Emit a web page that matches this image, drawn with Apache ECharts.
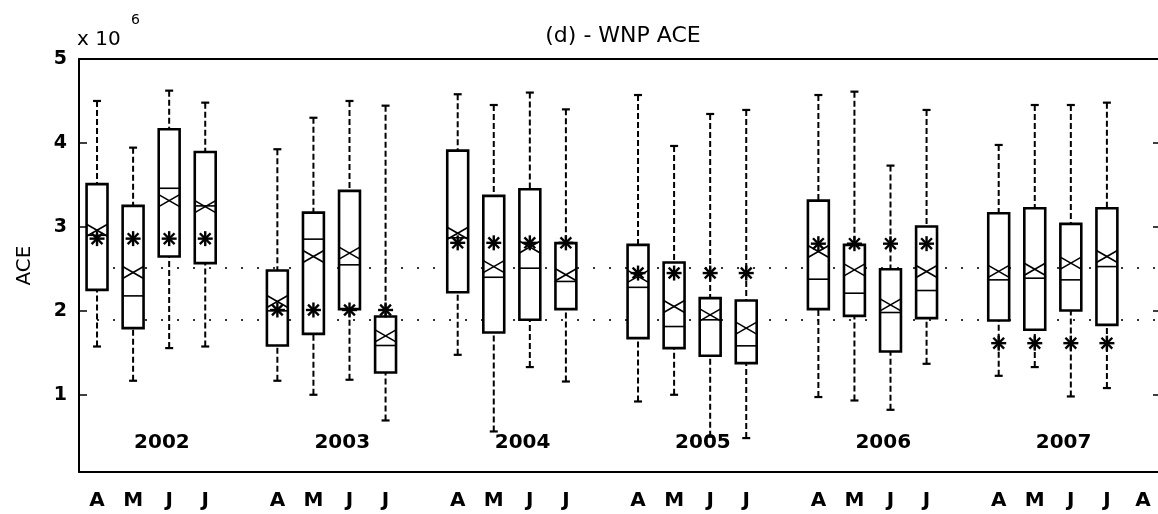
<!DOCTYPE html>
<html>
<head>
<meta charset="utf-8">
<script src="https://cdn.jsdelivr.net/npm/echarts@6/dist/echarts.min.js"></script>
<style>
html,body{margin:0;padding:0;background:#fff;overflow:hidden;width:1158px;height:514px}
#c{width:1180px;height:514px}
</style>
</head>
<body>
<div id="c"></div>
<script>
// ---- data (values in units of 10^6) ----
const years = ['2002', '2003', '2004', '2005', '2006', '2007'];
const tickLabels = ['A','M','J','J','', 'A','M','J','J','', 'A','M','J','J','',
                    'A','M','J','J','', 'A','M','J','J','', 'A','M','J','J','A'];
const whiskerLow  = [1.575, 1.167, 1.556, 1.575,  1.167, 1.00, 1.179, 0.694,  1.476, 0.563, 1.33, 1.158,
                     0.92, 1.00, 0.50, 0.484,  0.973, 0.932, 0.821, 1.369,  1.226, 1.33, 0.98, 1.08];
const quartile1   = [2.25, 1.794, 2.647, 2.568,  1.587, 1.726, 2.02, 1.265,  2.222, 1.742, 1.893, 2.02,
                     1.675, 1.556, 1.464, 1.377,  2.02, 1.94, 1.516, 1.913,  1.885, 1.774, 2.004, 1.833];
const medians     = [2.90, 2.178, 3.46, 3.25,  2.00, 2.854, 2.548, 1.587,  2.87, 2.40, 2.508, 2.35,
                     2.28, 1.813, 1.893, 1.583,  2.377, 2.21, 1.98, 2.242,  2.369, 2.389, 2.369, 2.527];
const quartile3   = [3.51, 3.25, 4.163, 3.893,  2.48, 3.17, 3.429, 1.932,  3.908, 3.369, 3.449, 2.806,
                     2.786, 2.575, 2.151, 2.123,  3.313, 2.786, 2.496, 3.004,  3.163, 3.222, 3.036, 3.222];
const whiskerHigh = [4.50, 3.944, 4.623, 4.48,  3.925, 4.30, 4.50, 4.444,  4.58, 4.452, 4.60, 4.40,
                     4.571, 3.964, 4.345, 4.393,  4.571, 4.611, 3.73, 4.393,  3.976, 4.452, 4.452, 4.48];
const means       = [2.96, 2.456, 3.313, 3.242,  2.111, 2.647, 2.687, 1.702,  2.925, 2.527, 2.76, 2.429,
                     2.41, 2.051, 1.952, 1.794,  2.706, 2.488, 2.071, 2.468,  2.47, 2.496, 2.568, 2.647];
const observed    = [2.86, 2.01, 2.81, 2.45, 2.80, 1.615];   // one per year (asterisk)
const refLevels   = [2.51, 1.89];                            // dotted reference lines
const yTicks      = [1, 2, 3, 4, 5];

// ---- build series data ----
const boxData = [];
for (let i = 0; i < medians.length; i++) {
  const k = Math.floor(i / 4), m = i % 4;
  boxData.push([5 * k + m, whiskerLow[i], quartile1[i], medians[i], quartile3[i], whiskerHigh[i], means[i], observed[k]]);
}
const yearLabelData = years.map((y, k) => [5 * k + 1.8, 0.43, y]);

const FONT = 'DejaVu Sans';
const BLACK = '#000';

function renderBox(params, api) {
  const x = api.value(0);
  const pLow = api.coord([x, api.value(1)]);
  const pQ1 = api.coord([x, api.value(2)]);
  const pMed = api.coord([x, api.value(3)]);
  const pQ3 = api.coord([x, api.value(4)]);
  const pHigh = api.coord([x, api.value(5)]);
  const pMean = api.coord([x, api.value(6)]);
  const pObs = api.coord([x, api.value(7)]);
  const cx = pMed[0];
  const bw = api.size([1, 0])[0] * 0.58;
  const hw = bw / 2;
  const cap = 4;
  const capSt = { stroke: BLACK, lineWidth: 2.2, fill: null };
  const dashed = { stroke: BLACK, lineWidth: 2, lineDash: [6, 3], fill: null };
  const thin = { stroke: BLACK, lineWidth: 1.6, fill: null };
  const star = { stroke: BLACK, lineWidth: 2.4, fill: null };
  const line = (x1, y1, x2, y2, st) => ({ type: 'line', shape: { x1, y1, x2, y2 }, style: st });
  const r = 7.5, d = r * 0.72;
  return {
    type: 'group',
    children: [
      line(cx, pHigh[1], cx, pQ3[1], dashed),
      line(cx, pLow[1], cx, pQ1[1], dashed),
      line(cx - cap, pHigh[1], cx + cap, pHigh[1], capSt),
      line(cx - cap, pLow[1], cx + cap, pLow[1], capSt),
      { type: 'rect', shape: { x: cx - hw, y: pQ3[1], width: bw, height: pQ1[1] - pQ3[1] },
        style: { fill: '#fff', stroke: BLACK, lineWidth: 2.6 } },
      line(cx - hw, pMed[1], cx + hw, pMed[1], thin),
      // mean marker: bow-tie X across the box
      line(cx - hw, pMean[1] - 6, cx + hw, pMean[1] + 6, thin),
      line(cx - hw, pMean[1] + 6, cx + hw, pMean[1] - 6, thin),
      // observed marker: asterisk
      line(cx - r, pObs[1], cx + r, pObs[1], star),
      line(cx, pObs[1] - r, cx, pObs[1] + r, star),
      line(cx - d, pObs[1] - d, cx + d, pObs[1] + d, star),
      line(cx - d, pObs[1] + d, cx + d, pObs[1] - d, star)
    ]
  };
}

const chart = echarts.init(document.getElementById('c'), null, { renderer: 'canvas' });
chart.setOption({
  animation: false,
  backgroundColor: '#fff',
  title: {
    text: '(d) - WNP ACE',
    left: 618, top: 20, textAlign: 'center',
    textStyle: { fontFamily: FONT, fontSize: 22, fontWeight: 'normal', color: BLACK }
  },
  graphic: [
    { type: 'text', left: 77, top: 30, style: { text: 'x 10', font: '20px "DejaVu Sans"', fill: BLACK } },
    { type: 'text', left: 131, top: 13, style: { text: '6', font: '14px "DejaVu Sans"', fill: BLACK } }
  ],
  grid: { left: 79, top: 59, right: 19, bottom: 42, containLabel: false, outerBoundsMode: 'none' },
  xAxis: [
    {
      type: 'category', data: tickLabels, position: 'bottom', boundaryGap: true,
      axisLine: { onZero: false, lineStyle: { color: BLACK, width: 2 } },
      axisTick: { inside: true, alignWithLabel: true, interval: 0, length: 10, lineStyle: { color: BLACK, width: 1.5 } },
      axisLabel: { interval: 0, fontFamily: FONT, fontSize: 20, fontWeight: 'bold', color: BLACK, margin: 19 },
      splitLine: { show: false }
    },
    {
      type: 'category', data: tickLabels, position: 'top', boundaryGap: true,
      axisLine: { onZero: false, lineStyle: { color: BLACK, width: 2 } },
      axisTick: { inside: true, alignWithLabel: true, interval: 0, length: 7, lineStyle: { color: BLACK, width: 1.5 } },
      axisLabel: { show: false },
      splitLine: { show: false }
    },
    { type: 'value', min: -0.5, max: 29.5, show: false, axisLine: { onZero: false }, splitLine: { show: false } }
  ],
  yAxis: [
    {
      type: 'value', min: 0.08, max: 5, position: 'left',
      name: 'ACE', nameLocation: 'middle', nameGap: 44, nameRotate: 90,
      nameTextStyle: { fontFamily: FONT, fontSize: 20, color: BLACK },
      axisLine: { show: true, onZero: false, lineStyle: { color: BLACK, width: 2 } },
      axisTick: { show: true, inside: true, length: 8, customValues: yTicks, lineStyle: { color: BLACK, width: 1.5 } },
      axisLabel: { customValues: yTicks, fontFamily: FONT, fontSize: 19, fontWeight: 'bold', color: BLACK, margin: 12 },
      splitLine: { show: false }
    },
    {
      type: 'value', min: 0.08, max: 5, position: 'right',
      axisLine: { show: true, onZero: false, lineStyle: { color: BLACK, width: 2 } },
      axisTick: { show: true, inside: true, length: 8, customValues: yTicks, lineStyle: { color: BLACK, width: 1.5 } },
      axisLabel: { show: false },
      splitLine: { show: false }
    }
  ],
  series: [
    ...refLevels.map(v => ({
      type: 'line', xAxisIndex: 2, yAxisIndex: 0, z: 1, silent: true,
      data: [[0, v], [29.5, v]], symbol: 'none',
      lineStyle: { color: '#333', width: 2, type: [2, 14] }
    })),
    {
      type: 'custom', xAxisIndex: 0, yAxisIndex: 0, z: 3,
      renderItem: renderBox,
      encode: { x: 0, y: [1, 2, 3, 4, 5, 6, 7] },
      data: boxData
    },
    {
      type: 'scatter', xAxisIndex: 2, yAxisIndex: 0, z: 4, silent: true,
      symbolSize: 0, data: yearLabelData,
      itemStyle: { opacity: 1 },
      label: {
        show: true, position: 'inside', formatter: p => p.value[2], opacity: 1,
        fontFamily: FONT, fontSize: 20, fontWeight: 'bold', color: BLACK
      }
    }
  ]
});
</script>
</body>
</html>
